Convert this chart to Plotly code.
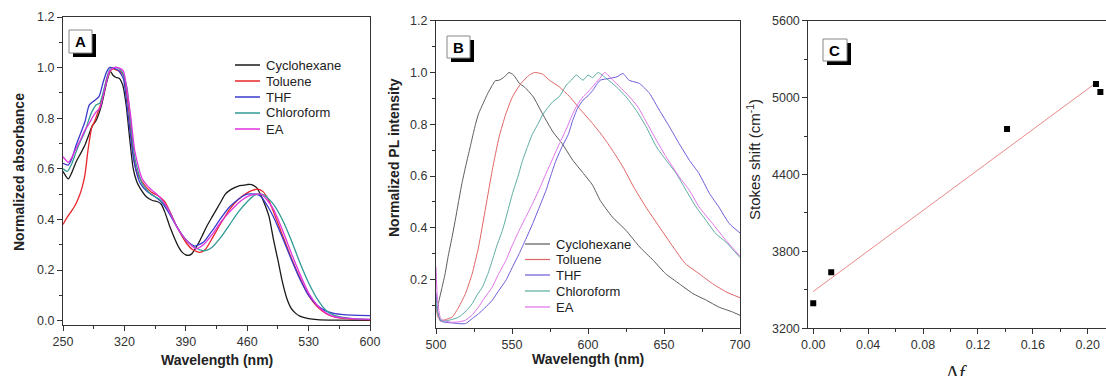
import numpy as np
import plotly.graph_objects as go

W, H = 1106, 376

# ---------------- Panel A: absorption ----------------
abs_series = ["Cyclohexane", "Toluene", "THF", "Chloroform", "EA"]

abs_cyc_x = [250,256,260,265,270,275,280,283,288,294,300,304,307,310,314,318,322,326,330,334,338,345,352,358,362,366,372,378,382,386,390,393,396,400,405,410,415,420,425,430,435,440,445,450,455,460,463,467,471,475,480,485,490,495,500,505,510,515,520,530,540,560,600]
abs_cyc_y = [0.59,0.56,0.585,0.628,0.66,0.694,0.74,0.767,0.793,0.853,0.945,0.985,0.97,0.962,0.958,0.932,0.853,0.72,0.602,0.55,0.523,0.49,0.475,0.47,0.46,0.43,0.37,0.319,0.29,0.27,0.26,0.258,0.262,0.28,0.31,0.345,0.38,0.41,0.44,0.47,0.50,0.515,0.525,0.532,0.535,0.538,0.539,0.535,0.525,0.50,0.46,0.41,0.32,0.24,0.155,0.09,0.05,0.03,0.018,0.008,0.004,0.002,0.001]

abs_tol_x = [250,255,260,264,269,272,275,278,280,283,286,290,294,297,300,304,307,311,315,319,322,326,330,334,340,350,360,366,372,380,390,398,406,412,420,430,440,450,460,466,472,478,484,490,500,510,520,530,540,550,560,580,600]
abs_tol_y = [0.38,0.41,0.435,0.457,0.497,0.53,0.576,0.66,0.71,0.767,0.787,0.826,0.866,0.91,0.958,0.987,0.995,0.99,0.985,0.97,0.92,0.80,0.66,0.59,0.55,0.51,0.49,0.47,0.43,0.37,0.31,0.28,0.27,0.28,0.325,0.385,0.44,0.48,0.505,0.515,0.52,0.51,0.48,0.43,0.34,0.25,0.17,0.10,0.055,0.028,0.014,0.006,0.003]

abs_thf_x = [250,256,260,265,270,275,280,286,291,296,300,303,306,310,313,316,319,322,326,331,338,346,355,362,370,380,390,400,410,420,430,440,450,460,470,476,482,490,500,510,520,530,540,550,560,580,600]
abs_thf_y = [0.622,0.615,0.64,0.694,0.74,0.786,0.853,0.87,0.885,0.945,0.985,1.0,1.0,0.995,0.99,0.975,0.955,0.88,0.76,0.628,0.543,0.51,0.49,0.47,0.43,0.37,0.32,0.295,0.31,0.355,0.405,0.45,0.48,0.50,0.50,0.49,0.46,0.41,0.33,0.245,0.165,0.10,0.06,0.038,0.028,0.022,0.02]

abs_chl_x = [250,255,260,265,270,275,280,283,288,292,298,303,308,312,317,320,323,327,332,340,350,360,370,380,390,400,409,415,420,430,440,450,460,468,474,480,490,500,510,520,530,540,550,560,580,600]
abs_chl_y = [0.60,0.59,0.62,0.668,0.71,0.747,0.80,0.826,0.853,0.86,0.932,0.99,1.0,1.0,0.985,0.96,0.92,0.79,0.64,0.543,0.50,0.48,0.44,0.37,0.32,0.29,0.277,0.28,0.29,0.33,0.38,0.43,0.47,0.495,0.50,0.495,0.46,0.40,0.32,0.23,0.15,0.085,0.04,0.02,0.008,0.005]

abs_ea_x = [250,256,260,265,270,275,280,283,288,292,298,303,308,312,316,319,322,327,332,340,349,360,370,380,390,402,410,420,430,440,450,460,470,476,482,490,500,510,520,530,540,550,560,580,600]
abs_ea_y = [0.648,0.626,0.645,0.681,0.715,0.753,0.78,0.80,0.826,0.84,0.92,0.985,1.0,1.0,0.995,0.985,0.932,0.813,0.668,0.563,0.523,0.49,0.44,0.37,0.32,0.285,0.30,0.34,0.39,0.43,0.465,0.49,0.50,0.50,0.48,0.44,0.36,0.27,0.185,0.11,0.06,0.03,0.015,0.008,0.005]

# ---------------- Panel B: photoluminescence ----------------
pl_cyc_x = [500,501,502,504,506,508,510.6,513,515,517,519.4,522,524,526,528,531,534,537,539,541.5,545,548,551,555,558,564,570,577,583,590,597,603,608,616,625,634,643,651,660,669,678,686,695,700]
pl_cyc_y = [0.10,0.09,0.12,0.17,0.223,0.29,0.365,0.44,0.506,0.57,0.635,0.70,0.751,0.80,0.841,0.88,0.919,0.95,0.968,0.97,0.983,1.0,0.99,0.957,0.945,0.906,0.841,0.77,0.725,0.661,0.61,0.565,0.506,0.442,0.39,0.326,0.274,0.223,0.184,0.146,0.12,0.094,0.075,0.062]

pl_tol_x = [500,501,503,506,510.6,515,519.4,523.8,528,532.7,537,541.5,546,550.3,555.8,561.4,564.7,570,574.6,581,588,594.5,603,610,616,623,630,638,647,656,664,673,682,691,700]
pl_tol_y = [0.10,0.06,0.04,0.045,0.055,0.094,0.146,0.223,0.326,0.48,0.622,0.751,0.841,0.906,0.957,0.99,1.0,0.994,0.97,0.945,0.906,0.86,0.803,0.751,0.70,0.635,0.558,0.481,0.403,0.326,0.262,0.223,0.184,0.152,0.13]

pl_thf_x = [500,501,503,506,510,515,519.4,524,528,532,537,541,546,550,554.7,559,563.6,568,572.4,576,579,583.4,587,590,593,596.7,600,603,608,614,619,623,627,634,640.5,647,653.6,660,666.7,673,680,686,693,700]
pl_thf_y = [0.15,0.08,0.04,0.035,0.033,0.03,0.03,0.05,0.068,0.09,0.12,0.155,0.197,0.245,0.30,0.355,0.416,0.48,0.545,0.61,0.661,0.719,0.76,0.816,0.86,0.893,0.91,0.93,0.97,0.977,0.983,0.996,0.97,0.957,0.919,0.854,0.79,0.725,0.661,0.61,0.532,0.481,0.416,0.38]

pl_chl_x = [500,501,503,505,510,515,520,523.8,527,530.5,534,537,540,543.7,547,550.3,554,557,560,563.6,567,570,573,576.8,581,585.7,589,592.3,596.7,600,603,606.6,612,618.6,625,631.7,638.3,645,651.4,658,664.5,671,677.6,684,690.7,700]
pl_chl_y = [0.12,0.07,0.045,0.04,0.045,0.055,0.08,0.107,0.14,0.171,0.22,0.274,0.33,0.39,0.46,0.532,0.60,0.661,0.71,0.764,0.80,0.835,0.86,0.887,0.906,0.951,0.97,0.99,0.97,0.99,0.98,1.0,0.977,0.945,0.906,0.854,0.79,0.713,0.661,0.61,0.545,0.481,0.429,0.378,0.345,0.285]

pl_ea_x = [500,501,503,506,510,515,519.4,524,528,532,537,541,546,550,554.7,559,563.6,568,572.4,577,581.2,586,590,593,596.7,600,603,607.7,611,616.4,620.8,627.3,632.8,638.3,645,651.4,660,666.7,673,682,690.7,700]
pl_ea_y = [0.25,0.12,0.05,0.04,0.035,0.037,0.043,0.065,0.094,0.13,0.171,0.22,0.274,0.33,0.39,0.44,0.494,0.55,0.61,0.67,0.725,0.785,0.841,0.875,0.906,0.925,0.945,0.977,1.0,0.97,0.945,0.906,0.867,0.81,0.738,0.674,0.597,0.545,0.481,0.416,0.352,0.29]

# ---------------- Panel C: Lippert-Mataga ----------------
delta_f = [0.000, 0.0131, 0.1412, 0.2060, 0.2092]
stokes = [3395, 3637, 4755, 5106, 5044]
fit_x = [0.0, 0.205]

# ticks
a_xticks = [250, 320, 390, 460, 530, 600]
a_yticks = [0.0, 0.2, 0.4, 0.6, 0.8, 1.0, 1.2]
b_xticks = [500, 550, 600, 650, 700]
b_yticks = [0.2, 0.4, 0.6, 0.8, 1.0, 1.2]
c_xticks = [0.00, 0.04, 0.08, 0.12, 0.16, 0.20]
c_yticks = [3200, 3800, 4400, 5000, 5600]

colA = ["#1a1a1a", "#e8262b", "#3a3acc", "#2f9a96", "#e032e0"]
colB = ["#5a5a5a", "#e06464", "#6a5ad8", "#5aaaa0", "#e070e8"]

absx = [abs_cyc_x, abs_tol_x, abs_thf_x, abs_chl_x, abs_ea_x]
absy = [abs_cyc_y, abs_tol_y, abs_thf_y, abs_chl_y, abs_ea_y]
plx = [pl_cyc_x, pl_tol_x, pl_thf_x, pl_chl_x, pl_ea_x]
ply = [pl_cyc_y, pl_tol_y, pl_thf_y, pl_chl_y, pl_ea_y]

fig = go.Figure()
for i, name in enumerate(abs_series):
    fig.add_trace(go.Scatter(x=absx[i], y=absy[i], mode="lines", name=name,
                             line=dict(color=colA[i], width=1.3, shape="spline", smoothing=0.6),
                             xaxis="x", yaxis="y", showlegend=False))
for i, name in enumerate(abs_series):
    fig.add_trace(go.Scatter(x=plx[i], y=ply[i], mode="lines", name=name,
                             line=dict(color=colB[i], width=1.0, shape="spline", smoothing=0.5),
                             xaxis="x2", yaxis="y2", showlegend=False))

coef = np.polyfit(delta_f, stokes, 1)
fit_y = list(np.polyval(coef, fit_x))
fig.add_trace(go.Scatter(x=fit_x, y=fit_y, mode="lines", line=dict(color="#e88a8a", width=1),
                         xaxis="x3", yaxis="y3", showlegend=False))
fig.add_trace(go.Scatter(x=delta_f, y=stokes, mode="markers",
                         marker=dict(symbol="square", size=6, color="black"),
                         xaxis="x3", yaxis="y3", showlegend=False))

def px(x):
    return x / W

def py(y):
    return 1 - y / H

tickfont = dict(family="Liberation Sans, Arial", size=12.5, color="#333")

def axis(domain, rng, tickvals, dtick_minor, fmt=None, mirror=True, anchor=None):
    d = dict(domain=domain, range=rng, tickmode="array", tickvals=tickvals,
             ticks="outside", ticklen=5, tickwidth=1, tickcolor="#333",
             showline=True, linecolor="#333", linewidth=1, mirror=mirror,
             showgrid=False, zeroline=False, tickfont=tickfont, automargin=False,
             minor=dict(ticks="outside", ticklen=3, tickcolor="#333", dtick=dtick_minor,
                        tick0=tickvals[0], showgrid=False),
             anchor=anchor)
    if fmt:
        d["tickformat"] = fmt
    return d

layout = dict(
    width=W, height=H, margin=dict(l=0, r=0, t=0, b=0, pad=0), autosize=False,
    paper_bgcolor="white", plot_bgcolor="white", showlegend=False,
    xaxis=axis([px(63), px(370)], [250, 600], a_xticks, 35, anchor="y"),
    yaxis=axis([py(325), py(17)], [-0.017, 1.2], a_yticks, 0.1, fmt=".1f", anchor="x"),
    xaxis2=axis([px(436), px(740)], [500, 700], b_xticks, 25, anchor="y2"),
    yaxis2=axis([py(328), py(20.7)], [0.013, 1.2], b_yticks, 0.1, fmt=".1f", anchor="x2"),
    xaxis3=axis([px(808.3), 1.0], [-0.0036, 0.2133], c_xticks, 0.02, fmt=".2f", anchor="y3"),
    yaxis3=axis([py(328.3), py(20.7)], [3200, 5600], c_yticks, 300, mirror=False, anchor="x3"),
)
fig.update_layout(**layout)

shapes = []
annotations = []
boldfont = dict(family="Liberation Sans, Arial", size=14, color="#222")

def ann(text, x, y, font, angle=0, xanchor="center", yanchor="middle"):
    annotations.append(dict(text=text, x=px(x), y=py(y), xref="paper", yref="paper",
                            showarrow=False, font=font, textangle=angle,
                            xanchor=xanchor, yanchor=yanchor))

# axis titles
ann("<b>Wavelength (nm)</b>", 217, 360, boldfont)
ann("<b>Normalized absorbance</b>", 19, 172, boldfont, angle=-90)
ann("<b>Wavelength (nm)</b>", 588, 359, boldfont)
ann("<b>Normalized PL intensity</b>", 394, 158, boldfont, angle=-90)
ann("Stokes shift (cm<sup>-1</sup>)", 754, 160,
    dict(family="Liberation Sans, Arial", size=15, color="#222"), angle=-90)
ann("Δ<i>f</i>", 956, 360, dict(family="Liberation Serif, Times New Roman", size=20, color="#222"),
    yanchor="top")

# panel label boxes
def label_box(x0, y0, x1, y1, letter):
    shapes.append(dict(type="rect", xref="paper", yref="paper",
                       x0=px(x0 + 4), x1=px(x1 + 4), y0=py(y1 + 4), y1=py(y0 + 4),
                       fillcolor="black", line=dict(width=0)))
    shapes.append(dict(type="rect", xref="paper", yref="paper",
                       x0=px(x0), x1=px(x1), y0=py(y1), y1=py(y0),
                       fillcolor="white", line=dict(color="#888", width=1)))
    ann("<b>%s</b>" % letter, (x0 + x1) / 2, (y0 + y1) / 2 + 0.5,
        dict(family="Liberation Sans, Arial", size=15, color="black"))

label_box(69, 30, 92, 53, "A")
label_box(447, 36, 470, 58, "B")
label_box(823, 39, 847, 61, "C")

# manual legends
legfont = dict(family="Liberation Sans, Arial", size=13, color="#222")

def legend(x_line0, x_line1, x_text, ys, cols, width):
    for name, yy, c in zip(abs_series, ys, cols):
        shapes.append(dict(type="line", xref="paper", yref="paper",
                           x0=px(x_line0), x1=px(x_line1), y0=py(yy), y1=py(yy),
                           line=dict(color=c, width=width)))
        ann(name, x_text, yy, legfont, xanchor="left")

legend(235, 260, 264, [65, 81, 97, 113, 129], colA, 1.5)
legend(525, 550, 554, [244, 259.5, 275, 291, 307], colB, 1.2)

fig.update_layout(shapes=shapes, annotations=annotations)
fig.write_html("out.html",
               post_script="document.body.style.margin='0';document.body.style.padding='0';"
                           "document.body.style.overflow='hidden';")
